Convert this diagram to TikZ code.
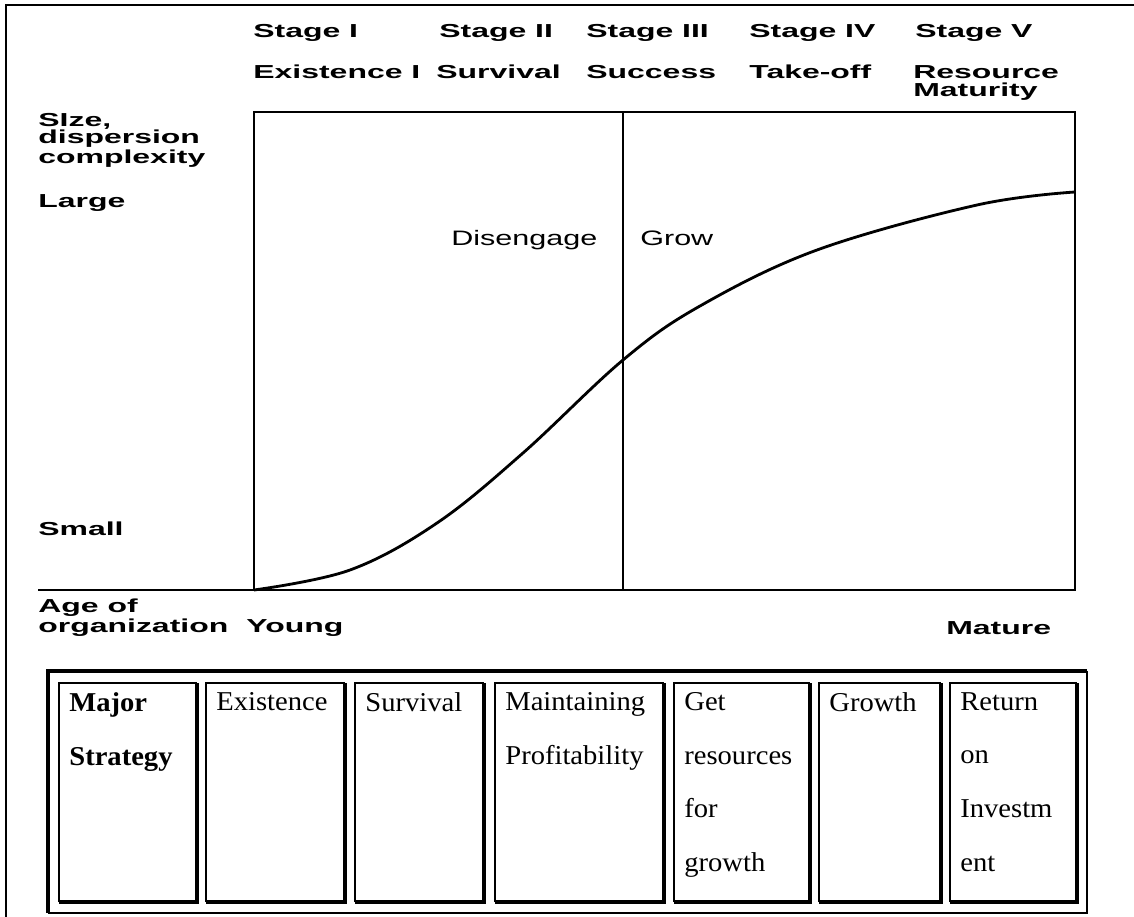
\documentclass[tikz,border=0pt]{standalone}
\usepackage{fontspec}
\usetikzlibrary{positioning}
\newfontfamily\chartfont[FakeStretch=1.7]{Liberation Sans}
\newfontfamily\zonefont[FakeStretch=1.46]{Liberation Sans}
\newfontfamily\tablefont[FakeStretch=1.05]{Liberation Serif}

\begin{document}
\begin{tikzpicture}[x=0.02cm,y=-0.02cm,
  hdr/.style={anchor=base west,inner sep=0pt,align=left,font=\chartfont\bfseries\fontsize{10.7}{9.8}\selectfont},
  zone/.style={anchor=base west,inner sep=0pt,font=\zonefont\fontsize{11.9}{12}\selectfont},
  axisline/.style={line width=1.1pt},
  thinedge/.style={line width=1.2pt},
  thickedge/.style={line width=2.6pt},
  celltext/.style={anchor=north west,inner sep=0pt,align=left,font=\tablefont\fontsize{15.5}{30.6}\selectfont}]
  \useasboundingbox (0,0) rectangle (1134,917);
  % page frame
  \draw[line width=1.7pt] (6,917) -- (6,5) -- (1134,5);

  % stages (multi-line nodes sit on their last baseline)
  \foreach \n/\x/\t in {st1/253/Stage I,st2/439/Stage II,st3/586/Stage III,st4/749/Stage IV,st5/915/Stage V}
    \node[hdr] (\n) at (\x,37) {\t};
  \foreach \n/\x/\t in {ph1/253/Existence I,ph2/436/Survival,ph3/586/Success,ph4/749/Take-off}
    \node[hdr] (\n) at (\x,78) {\t};
  \node[hdr] (ph5) at (913,96) {Resource\\Maturity};

  % axis labels
  \node[hdr] (size) at (38,163) {SIze,\\dispersion\\complexity};
  \node[hdr] (large) at (38,207) {Large};
  \node[hdr] (small) at (38,535) {Small};
  \node[hdr] (age) at (38,632) {Age of\\organization};
  \node[hdr] (young) at (246,632) {Young};
  \node[hdr] (mature) at (946,634) {Mature};

  % chart box
  \draw[axisline] (38,590) -- (1075,590) -- (1075,112) -- (254,112) -- (254,590);
  \draw[axisline] (623,112) -- (623,590);
  \node[zone] (diseng) at (451,245) {Disengage};
  \node[zone] (grow) at (640,245) {Grow};

  % growth curve
  \draw[line width=1.6pt,line join=round] plot[smooth,tension=0.6] coordinates {(254,590) (350,570) (437,523) (523,453) (623,360) (700,306) (817,250) (977,205) (1075,192)};

  % strategy table
  \draw[line width=1.4pt] (48,913) -- (1087,913) -- (1087,671);
  \draw[line width=2.4pt] (1087,671) -- (48,671) -- (48,913);
  \foreach \n/\l/\r/\t in {c1/59/197/{\bfseries Major\\\bfseries Strategy},c2/206/345/Existence,c3/355/484/Survival,c4/495/664/{Maintaining\\Profitability},c5/674/810/{Get\\resources\\for\\growth},c6/819/941/Growth,c7/950/1077/{Return\\on\\Investm\\ent}}{
    \draw[thinedge] (\l,902) -- (\l,683) -- (\r,683);
    \draw[thickedge] (\r,683) -- (\r,902) -- (\l,902);
    \node[celltext] (\n) at (\l+10,692) {\t};
  }
\end{tikzpicture}
\end{document}
